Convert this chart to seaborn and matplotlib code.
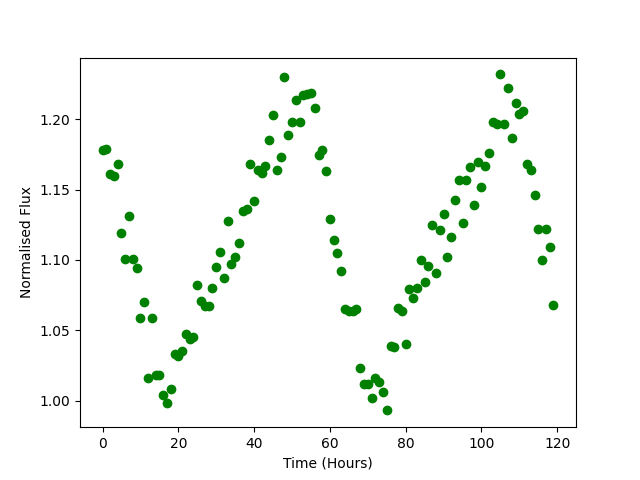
import numpy as np
import pandas as pd
import seaborn as sns
import matplotlib
matplotlib.use("Agg")
import matplotlib.pyplot as plt

# time in hours, one reading per hour
hours = np.arange(120)

flux = [1.178, 1.179, 1.161, 1.160, 1.168, 1.119, 1.101, 1.131, 1.101, 1.094,
        1.059, 1.070, 1.016, 1.059, 1.018, 1.018, 1.004, 0.998, 1.008, 1.033,
        1.032, 1.035, 1.047, 1.044, 1.045, 1.082, 1.071, 1.067, 1.067, 1.080,
        1.095, 1.106, 1.087, 1.128, 1.097, 1.102, 1.112, 1.135, 1.136, 1.168,
        1.142, 1.164, 1.162, 1.167, 1.185, 1.203, 1.164, 1.173, 1.230, 1.189,
        1.198, 1.214, 1.198, 1.217, 1.218, 1.219, 1.208, 1.175, 1.178, 1.163,
        1.129, 1.114, 1.105, 1.092, 1.065, 1.064, 1.064, 1.065, 1.023, 1.012,
        1.012, 1.002, 1.016, 1.013, 1.006, 0.993, 1.039, 1.038, 1.066, 1.064,
        1.040, 1.079, 1.073, 1.080, 1.100, 1.084, 1.096, 1.125, 1.091, 1.121,
        1.133, 1.102, 1.116, 1.143, 1.157, 1.126, 1.157, 1.166, 1.139, 1.170,
        1.152, 1.167, 1.176, 1.198, 1.197, 1.232, 1.197, 1.222, 1.187, 1.212,
        1.204, 1.206, 1.168, 1.164, 1.146, 1.122, 1.100, 1.122, 1.109, 1.068]

df = pd.DataFrame({"time": hours, "flux": flux})

fig, ax = plt.subplots(figsize=(6.4, 4.8), dpi=100)
sns.scatterplot(data=df, x="time", y="flux", color="green", s=36,
                edgecolor="green", linewidth=1, ax=ax)
ax.set_xlabel("Time (Hours)")
ax.set_ylabel("Normalised Flux")

fig.savefig("out.png")
